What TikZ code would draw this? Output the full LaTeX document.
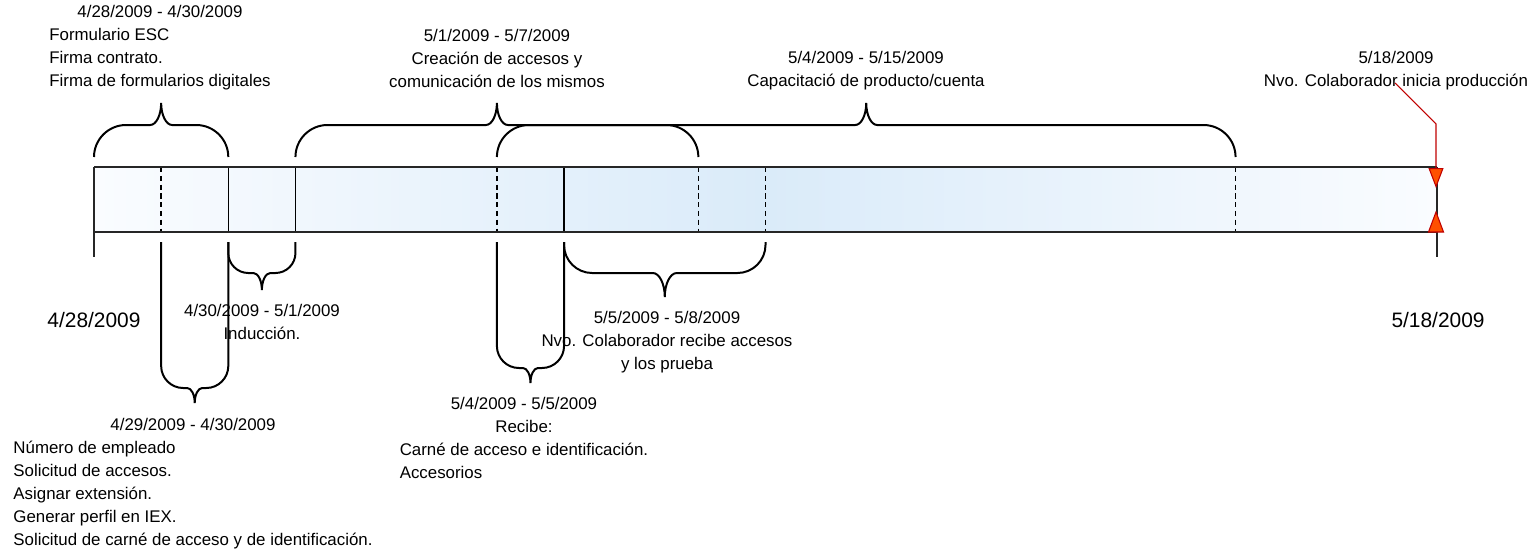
\documentclass[tikz,border=0pt]{standalone}
\usepackage{fontspec}
\setmainfont{Liberation Sans}
\usepackage{tikz}
\usetikzlibrary{arrows.meta,positioning,calc}
\definecolor{barmid}{RGB}{218,235,249}
\definecolor{barend}{RGB}{250,252,255}
\definecolor{mkred}{RGB}{192,0,0}
\definecolor{mkfill}{RGB}{255,80,0}
\newcommand{\tlrows}[2]{\begin{tabular}{@{}#1@{}}#2\end{tabular}}
\newcommand{\ctr}[1]{\multicolumn{1}{@{}c@{}}{#1}}
% brace: from day, to day, end y, bend y, tip y, corner radius (px)
\newcommand{\tlbrace}[6]{%
  \pgfmathsetmacro{\brxa}{94+67.15*#1}%
  \pgfmathsetmacro{\brxb}{94+67.15*#2}%
  \pgfmathsetmacro{\brxm}{(\brxa+\brxb)/2}%
  \pgfmathsetmacro{\brsg}{sign(#4-#3)}%
  \pgfmathsetmacro{\brw}{0.5*abs(#5-#4)}%
  \draw[bracepath] (\brxa,#3) -- (\brxa,{#4-(\brsg)*#6})
    .. controls (\brxa,{#4-0.45*(\brsg)*#6}) and ({\brxa+0.45*#6},#4) .. ({\brxa+#6},#4)
    -- ({\brxm-\brw},#4)
    .. controls ({\brxm-0.45*\brw},#4) and (\brxm,{#4+0.45*(#5-#4)}) .. (\brxm,#5)
    .. controls (\brxm,{#4+0.45*(#5-#4)}) and ({\brxm+0.45*\brw},#4) .. ({\brxm+\brw},#4)
    -- ({\brxb-#6},#4)
    .. controls ({\brxb-0.45*#6},#4) and (\brxb,{#4-0.45*(\brsg)*#6}) .. (\brxb,{#4-(\brsg)*#6})
    -- (\brxb,#3);}
\tikzset{
  tltext/.style={inner sep=0pt,anchor=north,font=\fontsize{9.6}{13.05}\selectfont},
  tlbig/.style={inner sep=0pt,font=\fontsize{11.9}{14}\selectfont},
  bracepath/.style={line width=1.13pt,black},
  baredge/.style={line width=0.75pt,black!85},
  tickdash/.style={line width=0.75pt,black,dash pattern=on 3pt off 2pt},
  ticksolid/.style={line width=0.75pt,black},
  callout/.style={draw=mkred,line width=0.6pt,
    -{Triangle[length=0.4cm,width=0.3cm,fill=mkfill]}},
  redmark/.style={draw=mkred,fill=mkfill,line width=0.6pt},
}
\begin{document}
\begin{tikzpicture}[x=0.02cm,y=-0.02cm]
\useasboundingbox (0,0) rectangle (1530,552);
% the time bar, 4/28 to 5/18
\shade[left color=barend,right color=barend,middle color=barmid] (94,167) rectangle (1437,232);
\foreach \d in {1,6,9,10,17}
  \draw[tickdash] ({94+67.15*\d},167) -- ({94+67.15*\d},232);
\foreach \d in {2,3,7}
  \draw[ticksolid] ({94+67.15*\d},167) -- ({94+67.15*\d},232);
\draw[baredge] (94,167) -- (1437,167);
\draw[baredge] (94,232) -- (1437,232);
\draw[baredge] (94,167) -- (94,257);
\draw[baredge] (1437,167) -- (1437,257);
% braces above the bar
\tlbrace{0}{2}{157}{125}{103}{32}
\tlbrace{3}{9}{157}{125}{103}{32}
\tlbrace{6}{17}{157}{125}{103}{32}
% braces below the bar
\tlbrace{1}{2}{242}{388}{403}{22}
\tlbrace{2}{3}{242}{273}{290}{20}
\tlbrace{6}{7}{242}{368}{383}{22}
\tlbrace{7}{10}{242}{273}{297}{28}
% labels above
\node[tltext] (lbl1) at (160,1) {\tlrows{l}{\ctr{4/28/2009 - 4/30/2009}\\Formulario ESC\\Firma contrato.\\Firma de formularios digitales}};
\node[tltext] (lbl2) at (497,25) {\tlrows{c}{5/1/2009 - 5/7/2009\\Creación de accesos y\\comunicación de los mismos}};
\node[tltext] (lbl3) at (866,47) {\tlrows{c}{5/4/2009 - 5/15/2009\\Capacitació de producto/cuenta}};
\node[tltext] (lbl4) at (1396,47) {\tlrows{c}{5/18/2009\\Nvo. Colaborador inicia producción}};
% labels below
\node[tltext] (lbl5) at (193,414) {\tlrows{l}{\ctr{4/29/2009 - 4/30/2009}\\Número de empleado\\Solicitud de accesos.\\Asignar extensión.\\Generar perfil en IEX.\\Solicitud de carné de acceso y de identificación.}};
\node[tltext] (lbl6) at (262,300) {\tlrows{c}{4/30/2009 - 5/1/2009\\Inducción.}};
\node[tltext] (lbl7) at (524,393) {\tlrows{l}{\ctr{5/4/2009 - 5/5/2009}\\\ctr{Recibe:}\\Carné de acceso e identificación.\\Accesorios}};
\node[tltext] (lbl8) at (667,307) {\tlrows{c}{5/5/2009 - 5/8/2009\\Nvo. Colaborador recibe accesos\\y los prueba}};
% start and end dates
\node[tlbig] (start) at (94,320) {4/28/2009};
\node[tlbig] (finish) at (1438,320) {5/18/2009};
% milestone marker
\coordinate (cstart) at (1395,83);
\coordinate (kink) at (1436,124);
\coordinate (endtop) at (1436,188);
\coordinate (endbot) at (1436,232);
\draw[callout] (cstart) -- (kink) -- (endtop);
\filldraw[redmark] (endbot) ++(-7.5,0) -- ++(15,0) -- ++(-7.5,-20) -- cycle;
\end{tikzpicture}
\end{document}
